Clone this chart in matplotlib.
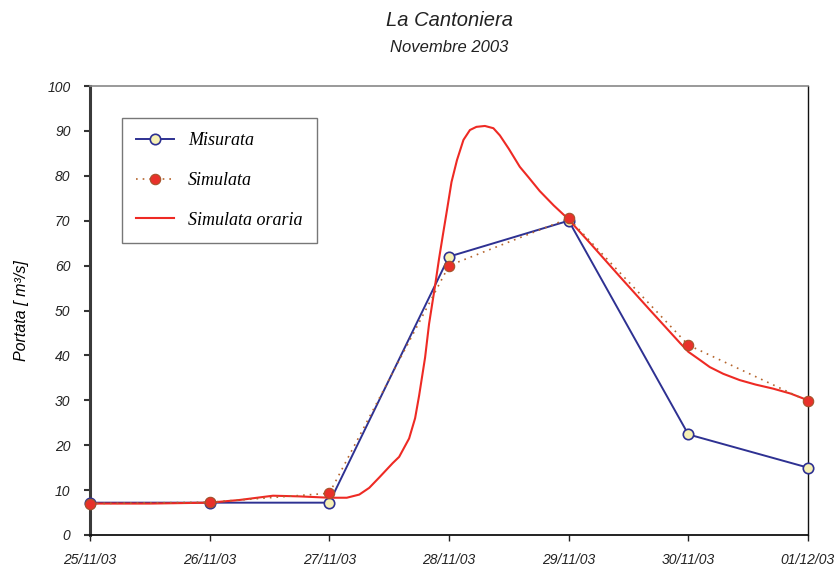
import matplotlib
matplotlib.use("Agg")
import matplotlib.pyplot as plt

# giorni (asse x) e portate giornaliere
giorni = ["25/11/03", "26/11/03", "27/11/03", "28/11/03", "29/11/03", "30/11/03", "01/12/03"]
misurata = [7.2, 7.2, 7.2, 62.0, 70.0, 22.4, 15.0]
simulata = [7.0, 7.3, 9.3, 60.0, 70.5, 42.3, 29.8]

# simulazione oraria: ore dall'inizio del 25/11 e portata
ore_orarie = [0, 6, 12, 18, 24, 30, 36.7, 42, 48, 51.5, 54, 56, 58, 60.7, 62, 64, 65.2,
              66, 67.2, 68, 69.2, 70, 70.8, 71.6, 72.5, 73.6, 74.9, 76.2, 77.5, 79.2,
              80.9, 82.2, 84, 86.2, 88, 90.2, 93, 95.8, 100.3, 106.3, 112.3, 118.3,
              120, 122.3, 124.3, 127, 130.3, 133.5, 137, 140.5, 144]
portata_oraria = [7.0, 7.0, 7.0, 7.1, 7.2, 7.8, 8.75, 8.6, 8.3, 8.3, 9.0, 10.5, 12.8,
                  16.0, 17.4, 21.5, 26.0, 31.0, 39.5, 47.0, 55.5, 61.5, 67.0, 72.4, 78.6,
                  83.5, 88.0, 90.2, 90.9, 91.1, 90.6, 89.0, 86.0, 82.0, 79.6, 76.6, 73.4,
                  70.5, 65.0, 57.5, 50.1, 42.8, 40.8, 39.0, 37.4, 35.9, 34.5, 33.5, 32.6,
                  31.5, 30.0]

x_giorni = list(range(len(giorni)))
x_orari = [h / 24 for h in ore_orarie]

plt.rcParams["font.family"] = ["Liberation Sans", "DejaVu Sans"]

fig = plt.figure(figsize=(8.38, 5.66), dpi=100)
ax = fig.add_axes([90 / 838, 31 / 566, 718 / 838, 449 / 566])

ax.plot(x_giorni, misurata, color="#2e3192", lw=1.4, marker="o", ms=7.5,
        mfc="#f7f1b5", mec="#2e3192", mew=1.2, label="Misurata", clip_on=False, zorder=3)
ax.plot(x_orari, portata_oraria, color="#ee2a24", lw=1.5, label="Simulata oraria",
        clip_on=False, zorder=4)
ax.plot(x_giorni, simulata, color="#b5652d", lw=1.2, ls=(0, (1, 3)), marker="o", ms=7.5,
        mfc="#e8312a", mec="#a5532a", mew=0.8, label="Simulata", clip_on=False, zorder=5)

ax.set_xlim(0, 6)
ax.set_ylim(0, 100)
ax.set_xticks(x_giorni)
ax.set_xticklabels(giorni)
ax.set_yticks(range(0, 101, 10))

for lab in ax.get_xticklabels() + ax.get_yticklabels():
    lab.set_fontstyle("italic")
    lab.set_fontsize(10)
    lab.set_color("#222222")
ax.tick_params(axis="x", direction="out", length=4, width=1, pad=9, color="#222222")
ax.tick_params(axis="y", direction="out", length=4, width=1.5, pad=10, color="#333333")

ax.spines["left"].set_color("#3a3a3a")
ax.spines["left"].set_linewidth(2.2)
ax.spines["bottom"].set_color("#111111")
ax.spines["bottom"].set_linewidth(1.3)
ax.spines["top"].set_color("#888888")
ax.spines["top"].set_linewidth(1.2)
ax.spines["right"].set_color("#111111")
ax.spines["right"].set_linewidth(1.0)

ax.set_ylabel("Portata [ m³/s]", fontstyle="italic", fontsize=11.5, labelpad=13)

fig.text(449 / 838, 1 - 20 / 566, "La Cantoniera", ha="center", va="center",
         fontsize=14.5, fontstyle="italic", color="#222222")
fig.text(449 / 838, 1 - 48 / 566, "Novembre 2003", ha="center", va="center",
         fontsize=12, fontstyle="italic", color="#222222")

# legenda nell'ordine Misurata, Simulata, Simulata oraria
h, l = ax.get_legend_handles_labels()
ordine = [0, 2, 1]
leg = ax.legend([h[i] for i in ordine], [l[i] for i in ordine],
                loc="upper left", bbox_to_anchor=(122 / 838, 1 - 118 / 566),
                bbox_transform=fig.transFigure, borderaxespad=0,
                prop={"family": "Liberation Serif", "style": "italic", "size": 13},
                fancybox=False, framealpha=1, edgecolor="#777777",
                handlelength=2.1, handletextpad=0.75, labelspacing=1.25,
                borderpad=0.8)
leg.get_frame().set_linewidth(1.0)

fig.savefig("out.png", dpi=100)
